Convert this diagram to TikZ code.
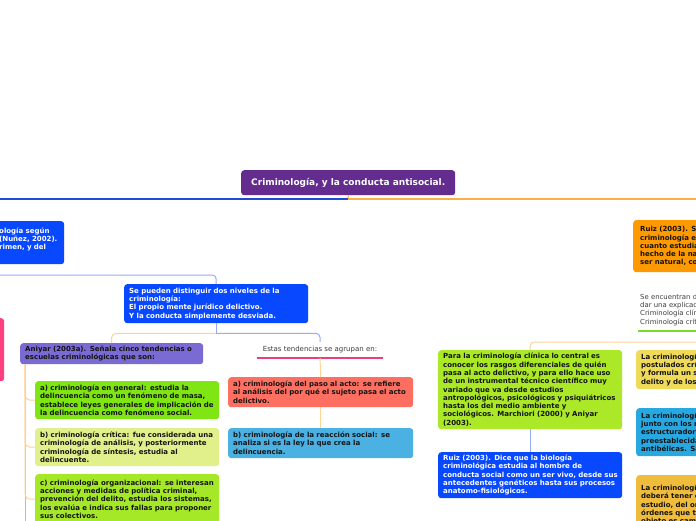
\documentclass[tikz,border=0pt]{standalone}
\usepackage{fontspec}
\setsansfont{DejaVu Sans}
\definecolor{cpurple}{RGB}{101,44,144}
\definecolor{cblue}{RGB}{8,72,255}
\definecolor{cviolet}{RGB}{122,106,212}
\definecolor{cpink}{RGB}{255,64,128}
\definecolor{cgreenA}{RGB}{127,230,20}
\definecolor{cpaleB}{RGB}{226,240,140}
\definecolor{cgreenC}{RGB}{165,232,40}
\definecolor{csalmon}{RGB}{255,111,97}
\definecolor{csky}{RGB}{75,176,226}
\definecolor{clime}{RGB}{170,232,40}
\definecolor{corangeN}{RGB}{255,153,0}
\definecolor{cyellow}{RGB}{240,218,90}
\definecolor{cblueB}{RGB}{40,168,225}
\definecolor{cgold}{RGB}{240,188,60}
\definecolor{ink}{RGB}{20,20,20}
\definecolor{cgray}{RGB}{60,60,60}
\definecolor{lnblue}{RGB}{30,75,215}
\definecolor{lnorange}{RGB}{250,175,75}
\definecolor{lnlblue}{RGB}{150,170,245}
\definecolor{lnlorange}{RGB}{255,210,150}
\definecolor{lntrunk}{RGB}{255,175,70}
\definecolor{lnpink}{RGB}{240,60,120}
\definecolor{lngreen}{RGB}{120,220,40}
\begin{document}
\begin{tikzpicture}[x=1pt,y=-1pt,
  box/.style={rounded corners=3pt, inner xsep=5pt, inner ysep=2pt, anchor=north west,
    align=left, text=ink, font=\sffamily\bfseries\fontsize{7}{8.3}\selectfont},
  plaintext/.style={inner sep=0pt, text=cgray, font=\sffamily\fontsize{6.9}{8.2}\selectfont},
  ctopblue/.style={draw=lnblue, line width=1.2pt},
  ctoporange/.style={draw=lnorange, line width=1.2pt},
  clblue/.style={draw=lnlblue, line width=1pt, rounded corners=4pt},
  corange/.style={draw=lnlorange, line width=1pt, rounded corners=4pt},
  ctrunk/.style={draw=lntrunk, line width=1pt},
  cpinkline/.style={draw=lnpink, line width=1.8pt},
  cgreenline/.style={draw=lngreen, line width=1.8pt}]
\path[use as bounding box] (0,0) rectangle (696,520);
\clip (0,0) rectangle (696,520);

% nodes
\node[box, fill=cpurple, text=white, align=center, inner xsep=0pt,
  font=\sffamily\bfseries\fontsize{9}{10.5}\selectfont,
  minimum width=214pt, minimum height=25pt] (title) at (241,170)
  {Criminología, y la conducta antisocial.};

\node[box, fill=cblue, text=white, text width=60pt, minimum height=43pt] (lefttop) at (-6,221)
  {ología según\\(Nuñez, 2002).\\rimen, y del\\\mbox{}};

\node[box, fill=cpink, minimum width=24pt, minimum height=63pt] (pinkleft) at (-20,318) {};

\node[box, fill=cblue, text=white, text width=174pt, minimum height=39pt] (sepueden) at (124,284)
  {Se pueden distinguir dos niveles de la\\criminología:\\El propio mente jurídico delictivo.\\Y la conducta simplemente desviada.};

\node[box, fill=cviolet, text width=173pt, minimum height=21pt] (aniyar) at (20,343)
  {Aniyar (2003a). Señala cinco tendencias o\\escuelas criminológicas que son:};

\node[box, fill=cgreenA, text width=174pt, minimum height=38pt] (na) at (35,381)
  {a) criminología en general: estudia la\\delincuencia como un fenómeno de masa,\\establece leyes generales de implicación de\\la delincuencia como fenómeno social.};

\node[box, fill=cpaleB, text width=174pt, minimum height=38pt] (nb) at (35,428)
  {b) criminología crítica: fue considerada una\\criminología de análisis, y posteriormente\\criminología de síntesis, estudia al\\delincuente.};

\node[box, fill=cgreenC, text width=174pt, minimum height=50pt] (nc) at (35,474)
  {c) criminología organizacional: se interesan\\acciones y medidas de política criminal,\\prevención del delito, estudia los sistemas,\\los evalúa e indica sus fallas para proponer\\sus colectivos.};

\node[plaintext, font=\sffamily\fontsize{7}{8}\selectfont, minimum width=125pt, minimum height=16pt] (estas) at (320,350)
  {Estas tendencias se agrupan en:};

\node[box, fill=csalmon, text width=175pt, minimum height=30pt] (salmon) at (228,377)
  {a) criminología del paso al acto: se refiere\\al análisis del por qué el sujeto pasa el acto\\delictivo.};

\node[box, fill=csky, text width=175pt, minimum height=30pt] (sky) at (228,428)
  {b) criminología de la reacción social: se\\analiza si es la ley la que crea la\\delincuencia.};

\node[box, fill=clime, text width=174pt, minimum height=79pt] (para) at (438,350)
  {Para la criminología clínica lo central es\\conocer los rasgos diferenciales de quién\\pasa al acto delictivo, y para ello hace uso\\de un instrumental técnico científico muy\\variado que va desde estudios\\\mbox{antropológicos, psicológicos y psiquiátricos}\\hasta los del medio ambiente y\\sociológicos. Marchiori (2000) y Aniyar\\(2003).};

\node[box, fill=cblue, text=white, text width=174pt, minimum height=46pt] (ruiz) at (438,452)
  {Ruiz (2003). Dice que la biología\\criminológica estudia al hombre de\\\mbox{conducta social como un ser vivo, desde sus}\\antecedentes genéticos hasta sus procesos\\anatomo-fisiológicos.};

\node[box, fill=corangeN, inner xsep=7pt, text width=90pt, minimum height=52pt] (farorange) at (633,220)
  {Ruiz (2003). S\\criminología e\\cuanto estudia\\hecho de la na\\ser natural, co};

\node[plaintext, anchor=north west, align=left] (seenc) at (640,294)
  {Se encuentran do\\dar una explicaci\\Criminología clíni\\Criminología críti};

\node[box, fill=cyellow, text width=90pt, minimum height=39pt] (nyellow) at (636,350)
  {La criminologí\\postulados crít\\y formula un s\\delito y de los};

\node[box, fill=cblueB, text width=90pt, minimum height=48pt] (nblue) at (636,408)
  {La criminologí\\junto con los n\\estructuradore\\preestablecida\\antibélicas. Sá};

\node[box, fill=cgold, text width=90pt, minimum height=60pt] (ngold) at (636,475)
  {La criminologí\\deberá tener c\\estudio, del or\\órdenes que ti\\objeto es cam};

% connectors
\coordinate (hub) at (348,199);
\coordinate (leftend) at (-5,199);
\coordinate (rightend) at (705,199);
\coordinate (lt) at (-5,275);
\coordinate (rr) at (705,342);
\coordinate (gl) at (638,331);
\coordinate (gr) at (705,331);

\draw[ctoporange] (title.south) -- (hub);
\draw[ctopblue] (hub) -- (leftend);
\draw[ctoporange] (hub) -- (rightend);

\draw[clblue] (lt) -| (sepueden.north);
\draw[clblue, rounded corners=0pt] (sepueden.south) -- ++(0,10) coordinate (split);
\draw[corange] (split) -| (aniyar.north);
\draw[clblue] (split) -| (estas.north);

\draw[cpinkline] (estas.south west) -- (estas.south east);
\draw[corange] (estas.south) -- (salmon.north);
\draw[corange] (salmon.south) -- (sky.north);

\draw[ctrunk] ([xshift=5pt]aniyar.south west) -- ++(0,170);
\draw[corange, rounded corners=5pt] ([xshift=5pt]aniyar.south west) |- (na.west);
\draw[corange, rounded corners=5pt] ([xshift=5pt]aniyar.south west) |- (nb.west);
\draw[corange, rounded corners=5pt] ([xshift=5pt]aniyar.south west) |- (nc.west);

\draw[corange] (rr) -| (para.north);
\draw[clblue] (para.south) -- (ruiz.north);

\draw[cgreenline] (gl) -- (gr);
\end{tikzpicture}
\end{document}
